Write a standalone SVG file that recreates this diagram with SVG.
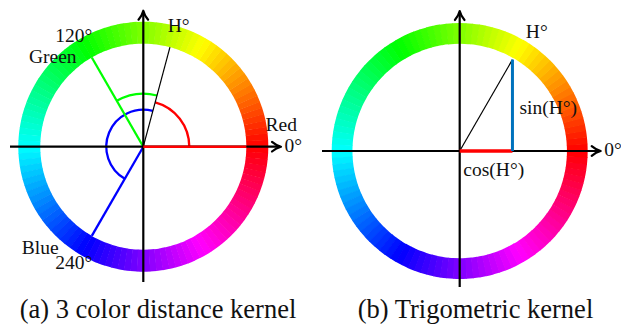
<svg xmlns="http://www.w3.org/2000/svg" xmlns:xlink="http://www.w3.org/1999/xlink" width="621" height="324" viewBox="0 0 621 324">
<style>
.lbl{font-family:"Liberation Serif","Times New Roman",serif;font-size:19.5px;fill:#111;text-anchor:middle}
.cap{font-size:26.5px}
.ax{stroke:#000;stroke-width:2.2;fill:none;marker-end:url(#arr)}
.thin{stroke:#000;stroke-width:1.2;fill:none}
.arc{fill:none;stroke-width:2.3}
</style>
<defs>
<marker id="arr" markerUnits="userSpaceOnUse" viewBox="-11 -7 13 14" markerWidth="13" markerHeight="14" refX="-1" refY="0" orient="auto" overflow="visible">
<path d="M-9,-4.8 C-6,-2.2 -2.5,-0.6 0,0 C-2.5,0.6 -6,2.2 -9,4.8" fill="none" stroke="#000" stroke-width="2.2" stroke-linecap="round" stroke-linejoin="round"/>
</marker>
<circle id="c" r="114.59" fill="none"/>
<g id="wheel" stroke-dasharray="6.6 800">
<use href="#c" transform="rotate(0)" stroke="#ff0600"/>
<use href="#c" transform="rotate(3)" stroke="#ff1300"/>
<use href="#c" transform="rotate(6)" stroke="#ff2000"/>
<use href="#c" transform="rotate(9)" stroke="#ff2d00"/>
<use href="#c" transform="rotate(12)" stroke="#ff3900"/>
<use href="#c" transform="rotate(15)" stroke="#ff4600"/>
<use href="#c" transform="rotate(18)" stroke="#ff5300"/>
<use href="#c" transform="rotate(21)" stroke="#ff6000"/>
<use href="#c" transform="rotate(24)" stroke="#ff6c00"/>
<use href="#c" transform="rotate(27)" stroke="#ff7900"/>
<use href="#c" transform="rotate(30)" stroke="#ff8600"/>
<use href="#c" transform="rotate(33)" stroke="#ff9300"/>
<use href="#c" transform="rotate(36)" stroke="#ff9f00"/>
<use href="#c" transform="rotate(39)" stroke="#ffac00"/>
<use href="#c" transform="rotate(42)" stroke="#ffb900"/>
<use href="#c" transform="rotate(45)" stroke="#ffc600"/>
<use href="#c" transform="rotate(48)" stroke="#ffd200"/>
<use href="#c" transform="rotate(51)" stroke="#ffdf00"/>
<use href="#c" transform="rotate(54)" stroke="#ffec00"/>
<use href="#c" transform="rotate(57)" stroke="#fff900"/>
<use href="#c" transform="rotate(60)" stroke="#f9ff00"/>
<use href="#c" transform="rotate(63)" stroke="#ecff00"/>
<use href="#c" transform="rotate(66)" stroke="#dfff00"/>
<use href="#c" transform="rotate(69)" stroke="#d2ff00"/>
<use href="#c" transform="rotate(72)" stroke="#c6ff00"/>
<use href="#c" transform="rotate(75)" stroke="#b9ff00"/>
<use href="#c" transform="rotate(78)" stroke="#acff00"/>
<use href="#c" transform="rotate(81)" stroke="#9fff00"/>
<use href="#c" transform="rotate(84)" stroke="#93ff00"/>
<use href="#c" transform="rotate(87)" stroke="#86ff00"/>
<use href="#c" transform="rotate(90)" stroke="#79ff00"/>
<use href="#c" transform="rotate(93)" stroke="#6cff00"/>
<use href="#c" transform="rotate(96)" stroke="#60ff00"/>
<use href="#c" transform="rotate(99)" stroke="#53ff00"/>
<use href="#c" transform="rotate(102)" stroke="#46ff00"/>
<use href="#c" transform="rotate(105)" stroke="#39ff00"/>
<use href="#c" transform="rotate(108)" stroke="#2dff00"/>
<use href="#c" transform="rotate(111)" stroke="#20ff00"/>
<use href="#c" transform="rotate(114)" stroke="#13ff00"/>
<use href="#c" transform="rotate(117)" stroke="#06ff00"/>
<use href="#c" transform="rotate(120)" stroke="#00ff06"/>
<use href="#c" transform="rotate(123)" stroke="#00ff13"/>
<use href="#c" transform="rotate(126)" stroke="#00ff20"/>
<use href="#c" transform="rotate(129)" stroke="#00ff2d"/>
<use href="#c" transform="rotate(132)" stroke="#00ff39"/>
<use href="#c" transform="rotate(135)" stroke="#00ff46"/>
<use href="#c" transform="rotate(138)" stroke="#00ff53"/>
<use href="#c" transform="rotate(141)" stroke="#00ff60"/>
<use href="#c" transform="rotate(144)" stroke="#00ff6c"/>
<use href="#c" transform="rotate(147)" stroke="#00ff79"/>
<use href="#c" transform="rotate(150)" stroke="#00ff86"/>
<use href="#c" transform="rotate(153)" stroke="#00ff93"/>
<use href="#c" transform="rotate(156)" stroke="#00ff9f"/>
<use href="#c" transform="rotate(159)" stroke="#00ffac"/>
<use href="#c" transform="rotate(162)" stroke="#00ffb9"/>
<use href="#c" transform="rotate(165)" stroke="#00ffc6"/>
<use href="#c" transform="rotate(168)" stroke="#00ffd2"/>
<use href="#c" transform="rotate(171)" stroke="#00ffdf"/>
<use href="#c" transform="rotate(174)" stroke="#00ffec"/>
<use href="#c" transform="rotate(177)" stroke="#00fff9"/>
<use href="#c" transform="rotate(180)" stroke="#00f9ff"/>
<use href="#c" transform="rotate(183)" stroke="#00ecff"/>
<use href="#c" transform="rotate(186)" stroke="#00dfff"/>
<use href="#c" transform="rotate(189)" stroke="#00d2ff"/>
<use href="#c" transform="rotate(192)" stroke="#00c6ff"/>
<use href="#c" transform="rotate(195)" stroke="#00b9ff"/>
<use href="#c" transform="rotate(198)" stroke="#00acff"/>
<use href="#c" transform="rotate(201)" stroke="#009fff"/>
<use href="#c" transform="rotate(204)" stroke="#0093ff"/>
<use href="#c" transform="rotate(207)" stroke="#0086ff"/>
<use href="#c" transform="rotate(210)" stroke="#0079ff"/>
<use href="#c" transform="rotate(213)" stroke="#006cff"/>
<use href="#c" transform="rotate(216)" stroke="#0060ff"/>
<use href="#c" transform="rotate(219)" stroke="#0053ff"/>
<use href="#c" transform="rotate(222)" stroke="#0046ff"/>
<use href="#c" transform="rotate(225)" stroke="#0039ff"/>
<use href="#c" transform="rotate(228)" stroke="#002dff"/>
<use href="#c" transform="rotate(231)" stroke="#0020ff"/>
<use href="#c" transform="rotate(234)" stroke="#0013ff"/>
<use href="#c" transform="rotate(237)" stroke="#0006ff"/>
<use href="#c" transform="rotate(240)" stroke="#0600ff"/>
<use href="#c" transform="rotate(243)" stroke="#1300ff"/>
<use href="#c" transform="rotate(246)" stroke="#2000ff"/>
<use href="#c" transform="rotate(249)" stroke="#2d00ff"/>
<use href="#c" transform="rotate(252)" stroke="#3900ff"/>
<use href="#c" transform="rotate(255)" stroke="#4600ff"/>
<use href="#c" transform="rotate(258)" stroke="#5300ff"/>
<use href="#c" transform="rotate(261)" stroke="#6000ff"/>
<use href="#c" transform="rotate(264)" stroke="#6c00ff"/>
<use href="#c" transform="rotate(267)" stroke="#7900ff"/>
<use href="#c" transform="rotate(270)" stroke="#8600ff"/>
<use href="#c" transform="rotate(273)" stroke="#9300ff"/>
<use href="#c" transform="rotate(276)" stroke="#9f00ff"/>
<use href="#c" transform="rotate(279)" stroke="#ac00ff"/>
<use href="#c" transform="rotate(282)" stroke="#b900ff"/>
<use href="#c" transform="rotate(285)" stroke="#c600ff"/>
<use href="#c" transform="rotate(288)" stroke="#d200ff"/>
<use href="#c" transform="rotate(291)" stroke="#df00ff"/>
<use href="#c" transform="rotate(294)" stroke="#ec00ff"/>
<use href="#c" transform="rotate(297)" stroke="#f900ff"/>
<use href="#c" transform="rotate(300)" stroke="#ff00f9"/>
<use href="#c" transform="rotate(303)" stroke="#ff00ec"/>
<use href="#c" transform="rotate(306)" stroke="#ff00df"/>
<use href="#c" transform="rotate(309)" stroke="#ff00d2"/>
<use href="#c" transform="rotate(312)" stroke="#ff00c6"/>
<use href="#c" transform="rotate(315)" stroke="#ff00b9"/>
<use href="#c" transform="rotate(318)" stroke="#ff00ac"/>
<use href="#c" transform="rotate(321)" stroke="#ff009f"/>
<use href="#c" transform="rotate(324)" stroke="#ff0093"/>
<use href="#c" transform="rotate(327)" stroke="#ff0086"/>
<use href="#c" transform="rotate(330)" stroke="#ff0079"/>
<use href="#c" transform="rotate(333)" stroke="#ff006c"/>
<use href="#c" transform="rotate(336)" stroke="#ff0060"/>
<use href="#c" transform="rotate(339)" stroke="#ff0053"/>
<use href="#c" transform="rotate(342)" stroke="#ff0046"/>
<use href="#c" transform="rotate(345)" stroke="#ff0039"/>
<use href="#c" transform="rotate(348)" stroke="#ff002d"/>
<use href="#c" transform="rotate(351)" stroke="#ff0020"/>
<use href="#c" transform="rotate(354)" stroke="#ff0013"/>
<use href="#c" transform="rotate(357)" stroke="#ff0006"/>
</g>
</defs>
<rect width="621" height="324" fill="#fff"/>

<g id="panel-a" transform="translate(143.3,146.7)">
<use id="ring-a" href="#wheel" transform="scale(0.9949,-0.9949)" stroke-width="22.1"/>
<g id="angle-arcs-a">
<path class="arc" d="M46 0 A46 46 0 0 0 11.91 -44.43" stroke="#ff0000"/>
<path class="arc" d="M13.72 -51.19 A53 53 0 0 0 -26.5 -45.9" stroke="#00ff00"/>
<path class="arc" d="M9.58 -35.74 A37 37 0 0 0 -18.5 32.04" stroke="#0000ff"/>
</g>
<g id="connectors-a">
<path d="M0 0 L-51.5 -89.2" stroke="#00ff00" stroke-width="2.3"/>
<path d="M0 0 L-51.5 89.2" stroke="#0000ff" stroke-width="2.3"/>
<path class="thin" d="M0 0 L26.66 -99.49"/>
<path class="ax" d="M-133.3 0 L136.7 0"/>
<path class="ax" d="M0 135.3 L0 -135"/>
<path d="M0 0 L103 0" stroke="#ff0000" stroke-width="2.4"/>
</g>
</g>

<g id="labels-a" class="lbl">
<text x="73.8" y="41.7">120°</text>
<text x="52.8" y="62.7">Green</text>
<text x="178.7" y="31.7">H°</text>
<text x="281.3" y="130.7">Red</text>
<text x="293.3" y="151.7">0°</text>
<text x="40.2" y="254">Blue</text>
<text x="73.8" y="269.3">240°</text>
</g>

<g id="panel-b" transform="translate(459.7,151)">
<use id="ring-b" href="#wheel" transform="scale(1.0263,-1.0263)" stroke-width="20.2"/>
<g id="connectors-b">
<path class="thin" d="M0 0 L52.75 -91.4"/>
<path class="ax" d="M-137.7 0 L140 0"/>
<path class="ax" d="M0 136 L0 -139"/>
<path d="M0 0 L52.75 0" stroke="#ff0000" stroke-width="3.3"/>
<path d="M52.75 0 L52.75 -91.4" stroke="#0072bd" stroke-width="3"/>
</g>
</g>

<g id="labels-b" class="lbl">
<text x="536.8" y="37.7">H°</text>
<text x="548.3" y="114">sin(H°)</text>
<text x="493.8" y="176">cos(H°)</text>
<text x="613" y="156">0°</text>
</g>

<g id="captions" class="lbl cap">
<text x="158" y="318">(a) 3 color distance kernel</text>
<text x="475.5" y="318">(b) Trigometric kernel</text>
</g>
</svg>
